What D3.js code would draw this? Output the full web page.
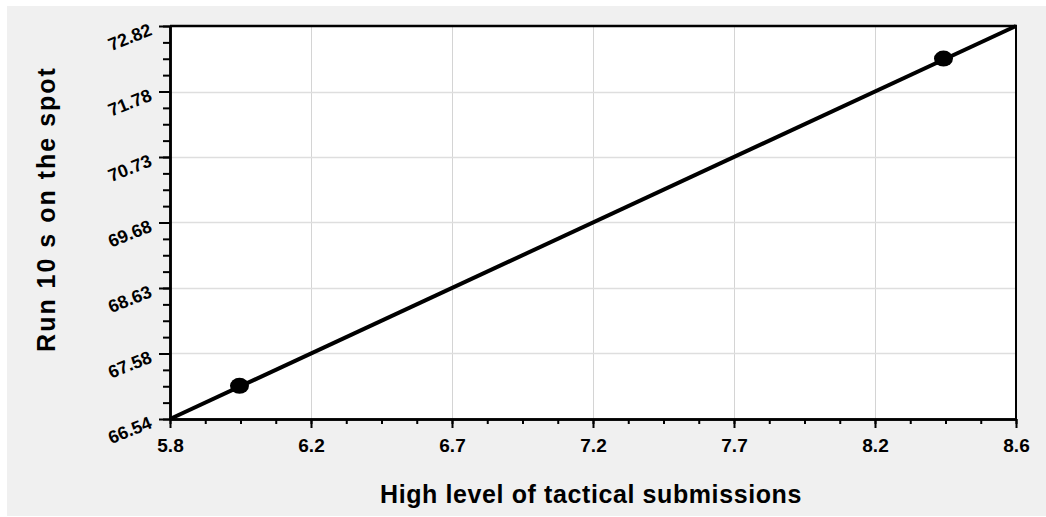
<!DOCTYPE html>
<html>
<head>
<meta charset="utf-8">
<script src="https://cdn.jsdelivr.net/npm/d3@7"></script>
<style>
  html, body { margin: 0; padding: 0; background: #ffffff; }
  svg { display: block; }
  text { font-family: "Liberation Sans", Arial, sans-serif; font-weight: bold; fill: #000; }
</style>
</head>
<body>
<svg id="chart"></svg>
<script>
// chart data
const xDomain = [5.8, 8.6];
const yDomain = [66.54, 72.82];
const xTickLabels = ["5.8", "6.2", "6.7", "7.2", "7.7", "8.2", "8.6"];
const yTickLabels = ["66.54", "67.58", "68.63", "69.68", "70.73", "71.78", "72.82"];
const pointX = [6.03, 8.36];
const pointY = [67.07, 72.30];
const fitX = [5.8, 8.6];
const fitY = [66.54, 72.82];
const xTitle = "High level of tactical submissions";
const yTitle = "Run 10 s on the spot";

const width = 1046;
const height = 517;
const plotLeft = 170, plotRight = 1016, plotTop = 26, plotBottom = 419;
const minorPerMajor = 4;

const svg = d3.select("#chart")
  .attr("width", width)
  .attr("height", height);

// grey panel
svg.append("rect")
  .attr("x", 7).attr("y", 6)
  .attr("width", width - 7).attr("height", 510)
  .attr("fill", "#f0f0f0");

const x = d3.scaleLinear().domain(xDomain).range([plotLeft, plotRight]);
const y = d3.scaleLinear().domain(yDomain).range([plotBottom, plotTop]);

// evenly spaced ticks, one per label
const xMajor = xTickLabels.map((d, i) => xDomain[0] + i * (xDomain[1] - xDomain[0]) / (xTickLabels.length - 1));
const yMajor = yTickLabels.map((d, i) => yDomain[0] + i * (yDomain[1] - yDomain[0]) / (yTickLabels.length - 1));
const xMinor = d3.range((xTickLabels.length - 1) * minorPerMajor + 1)
  .map(i => xDomain[0] + i * (xDomain[1] - xDomain[0]) / ((xTickLabels.length - 1) * minorPerMajor));
const yMinor = d3.range((yTickLabels.length - 1) * minorPerMajor + 1)
  .map(i => yDomain[0] + i * (yDomain[1] - yDomain[0]) / ((yTickLabels.length - 1) * minorPerMajor));

// plot background
svg.append("rect")
  .attr("x", plotLeft).attr("y", plotTop)
  .attr("width", plotRight - plotLeft).attr("height", plotBottom - plotTop)
  .attr("fill", "#ffffff");

// grid
svg.append("g").selectAll("line")
  .data(xMajor.slice(1, -1))
  .join("line")
  .attr("x1", d => Math.round(x(d)) + 0.5).attr("x2", d => Math.round(x(d)) + 0.5)
  .attr("y1", plotTop).attr("y2", plotBottom)
  .attr("stroke", "#d4d4d4").attr("stroke-width", 1);

svg.append("g").selectAll("line")
  .data(yMajor.slice(1, -1))
  .join("line")
  .attr("x1", plotLeft).attr("x2", plotRight)
  .attr("y1", d => Math.round(y(d)) + 0.5).attr("y2", d => Math.round(y(d)) + 0.5)
  .attr("stroke", "#dedede").attr("stroke-width", 1.5);

// frame (top and right)
svg.append("line")
  .attr("x1", plotLeft).attr("x2", plotRight + 1)
  .attr("y1", plotTop).attr("y2", plotTop)
  .attr("stroke", "#000").attr("stroke-width", 2.5);
svg.append("line")
  .attr("x1", plotRight).attr("x2", plotRight)
  .attr("y1", plotTop).attr("y2", plotBottom)
  .attr("stroke", "#000").attr("stroke-width", 2);

// fitted line
const line = d3.line().x(d => x(d[0])).y(d => y(d[1]));
svg.append("path")
  .datum(fitX.map((d, i) => [d, fitY[i]]))
  .attr("d", line)
  .attr("fill", "none")
  .attr("stroke", "#000")
  .attr("stroke-width", 4);

// points
svg.append("g").selectAll("ellipse")
  .data(pointX.map((d, i) => [d, pointY[i]]))
  .join("ellipse")
  .attr("cx", d => x(d[0]))
  .attr("cy", d => y(d[1]))
  .attr("rx", 9.5).attr("ry", 8)
  .attr("fill", "#000");

// x axis
svg.append("g")
  .attr("transform", `translate(0,${plotBottom})`)
  .call(d3.axisBottom(x).tickValues(xMinor).tickSize(5).tickFormat("").tickSizeOuter(0));
const xAxis = svg.append("g")
  .attr("transform", `translate(0,${plotBottom})`)
  .call(d3.axisBottom(x).tickValues(xMajor).tickSize(9).tickSizeOuter(0)
    .tickFormat((d, i) => xTickLabels[i]));
xAxis.attr("font-size", 19).attr("font-family", null);
xAxis.selectAll("text")
  .attr("y", 33).attr("dy", 0);

// y axis
svg.append("g")
  .attr("transform", `translate(${plotLeft},0)`)
  .call(d3.axisLeft(y).tickValues(yMinor).tickSize(7).tickFormat("").tickSizeOuter(0));
const yAxis = svg.append("g")
  .attr("transform", `translate(${plotLeft},0)`)
  .call(d3.axisLeft(y).tickValues(yMajor).tickSize(11).tickSizeOuter(0)
    .tickFormat((d, i) => yTickLabels[i]));
yAxis.attr("font-size", 18).attr("font-family", null);
yAxis.selectAll("text")
  .attr("x", 0).attr("dy", 0)
  .attr("transform", "translate(-17,8) rotate(-22)");

svg.selectAll(".domain").attr("stroke", "#000").attr("stroke-width", 2.5);
svg.selectAll(".tick line").attr("stroke", "#000").attr("stroke-width", 2);

// titles
svg.append("text")
  .attr("x", (plotLeft + plotRight) / 2 - 2)
  .attr("y", 503)
  .attr("text-anchor", "middle")
  .style("font-size", "25px")
  .style("letter-spacing", "0.6px")
  .text(xTitle);

svg.append("text")
  .attr("transform", `translate(55,${209}) rotate(-90)`)
  .attr("text-anchor", "middle")
  .style("font-size", "25px")
  .style("letter-spacing", "2px")
  .text(yTitle);
</script>
</body>
</html>
